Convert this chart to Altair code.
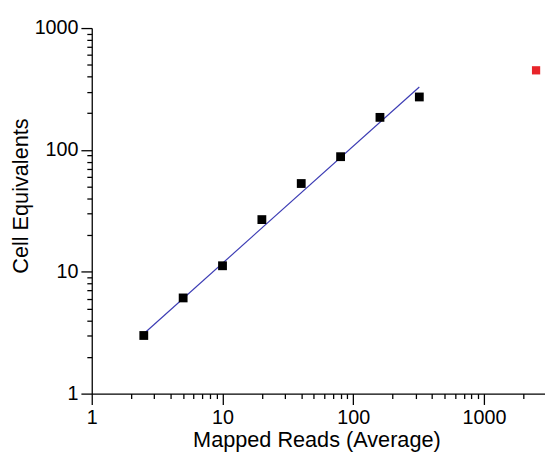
import altair as alt
import pandas as pd

# Data
reads = [2.5, 5, 10, 20, 40, 80, 160, 320]
cells = [3.0, 6.1, 11.2, 26.8, 53, 88, 185, 272]
outlier_reads = [2500]
outlier_cells = [450]
fit_reads = [2.5, 320]
fit_cells = [3.1, 328]

x_ticks = [1, 2, 3, 4, 5, 6, 7, 8, 9,
           10, 20, 30, 40, 50, 60, 70, 80, 90,
           100, 200, 300, 400, 500, 600, 700, 800, 900,
           1000, 2000]
y_ticks = [1, 2, 3, 4, 5, 6, 7, 8, 9,
           10, 20, 30, 40, 50, 60, 70, 80, 90,
           100, 200, 300, 400, 500, 600, 700, 800, 900,
           1000]
major = "indexof([1, 10, 100, 1000], datum.value) >= 0"

pts = pd.DataFrame({"x": reads, "y": cells})
out = pd.DataFrame({"x": outlier_reads, "y": outlier_cells})
fit = pd.DataFrame({"x": fit_reads, "y": fit_cells})

FONT = "Liberation Sans"

xscale = alt.Scale(type="log", domain=[1, 2926], nice=False)
yscale = alt.Scale(type="log", domain=[1, 1000], nice=False)

xaxis = alt.Axis(
    title="Mapped Reads (Average)", values=x_ticks, format="d",
    labelExpr=f"{major} ? datum.label : ''",
    tickSize={"condition": {"test": major, "value": 11}, "value": 5},
    labelOverlap=False, labelFlush=False, grid=False,
    labelPadding=3, titlePadding=3, titleX=228,
)
yaxis = alt.Axis(
    title="Cell Equivalents", values=y_ticks, format="d",
    labelExpr=f"{major} ? datum.label : ''",
    tickSize={"condition": {"test": major, "value": 11}, "value": 5},
    labelOverlap=False, labelFlush=False, grid=False,
    labelPadding=3, titleX=-60, titleY=170,
)

line = alt.Chart(fit).mark_line(color="#3c3cb4", strokeWidth=1.2).encode(
    x=alt.X("x:Q", scale=xscale, axis=xaxis),
    y=alt.Y("y:Q", scale=yscale, axis=yaxis),
)
black = alt.Chart(pts).mark_point(shape="square", filled=True, color="#000000",
                                  size=80, opacity=1).encode(
    x=alt.X("x:Q", scale=xscale), y=alt.Y("y:Q", scale=yscale))
red = alt.Chart(out).mark_point(shape="square", filled=True, color="#e8242a",
                                size=70, opacity=1).encode(
    x=alt.X("x:Q", scale=xscale), y=alt.Y("y:Q", scale=yscale))

chart = alt.layer(line, black, red).properties(
    width=460, height=371,
    autosize=alt.AutoSizeParams(type="none"),
    padding={"left": 85, "top": 17, "right": 0, "bottom": 64},
).configure_view(stroke=None).configure_axis(
    domainColor="#000000", domainWidth=1.3, tickColor="#000000", tickWidth=1.3,
    labelColor="#000000", titleColor="#000000",
    labelFont=FONT, titleFont=FONT, labelFontSize=20, titleFontSize=22,
    titleFontWeight="normal",
)

chart.save("out.html", embed_options={"renderer": "svg", "actions": False})
